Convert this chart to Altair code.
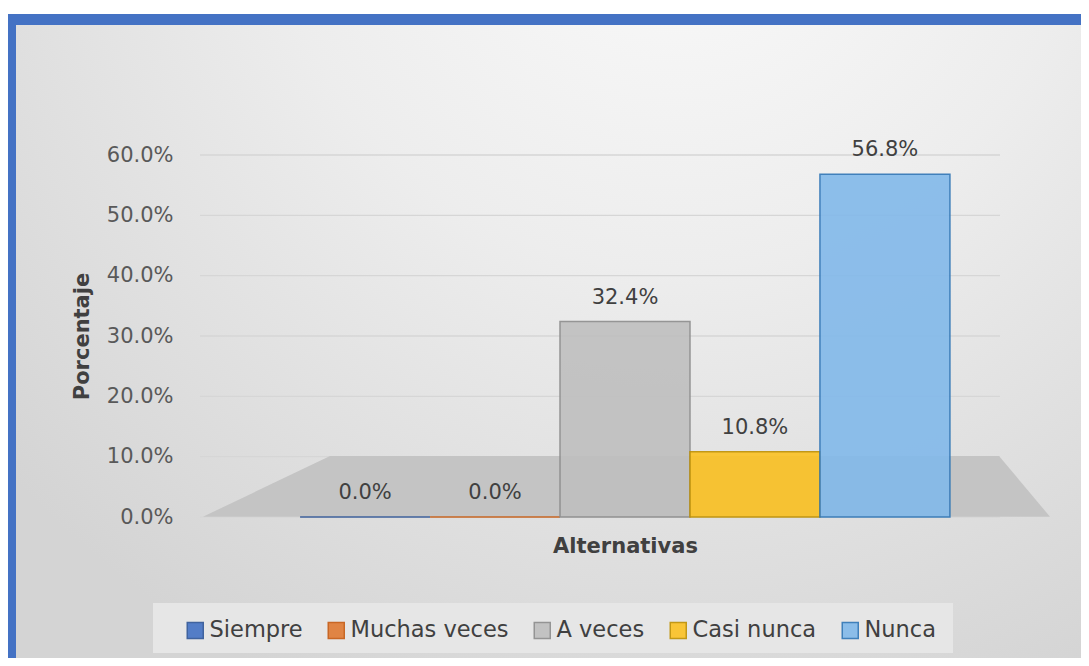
import altair as alt
import pandas as pd

# ---- data ----
categories = ["Siempre", "Muchas veces", "A veces", "Casi nunca", "Nunca"]
values = [0.0, 0.0, 0.324, 0.108, 0.568]
fill_colors = ["#4472c4", "#e07a33", "#bfbfbf", "#fcc224", "#82b9ea"]
stroke_colors = ["#2f5597", "#c55a11", "#8c8c8c", "#bf9000", "#2e75b6"]
y_ticks = [0.0, 0.1, 0.2, 0.3, 0.4, 0.5, 0.6]

df = pd.DataFrame({"Alternativa": categories, "Porcentaje": values})
ticks_df = pd.DataFrame({"tick": y_ticks})

W, H = 850, 362
PAD_L, PAD_T, PAD_R, PAD_B = 192, 147, 31, 141
FONT = "DejaVu Sans"

deco = pd.DataFrame({"k": [0]})

# blue frame (decoration)
frame = alt.Chart(deco).mark_rect(color="#4472c4").encode(
    x=alt.value(-PAD_L - 1), x2=alt.value(W + PAD_R),
    y=alt.value(-PAD_T + 6), y2=alt.value(H + PAD_B),
)
# grey background inside the frame (decoration)
inner = alt.Chart(deco).mark_rect(
    fill=alt.Gradient(
        gradient="radial",
        stops=[alt.GradientStop(color="#fbfbfb", offset=0),
               alt.GradientStop(color="#ededed", offset=0.45),
               alt.GradientStop(color="#d4d4d4", offset=1)],
        x1=0.62, y1=0.05, x2=0.62, y2=0.05, r1=0, r2=0.85,
    )
).encode(
    x=alt.value(-PAD_L + 8), x2=alt.value(W + PAD_R),
    y=alt.value(-PAD_T + 17), y2=alt.value(H + PAD_B),
)

# grid lines (from tick values)
grid = alt.Chart(ticks_df).mark_rule(color="#d6d6d6", strokeWidth=1.3).encode(
    y=alt.Y("tick:Q", scale=alt.Scale(domain=[0, 0.6], nice=False)),
    x=alt.value(0), x2=alt.value(W - 50),
)

# floor (decoration): trapezoid drawn as a custom symbol
floor = alt.Chart(deco).mark_point(
    shape="M -0.993 0.07 L 1 0.07 L 0.88 -0.073 L -0.694 -0.073 Z",
    filled=True, fill="#c4c4c4", opacity=1, strokeWidth=0,
    size=850 * 850,
).encode(x=alt.value(425), y=alt.value(H - 30))

# legend box (decoration)
legend_box = alt.Chart(deco).mark_rect(color="#e6e6e6").encode(
    x=alt.value(-47), x2=alt.value(753),
    y=alt.value(448), y2=alt.value(498),
)

color_scale = alt.Scale(domain=categories, range=fill_colors)
stroke_scale = alt.Scale(domain=categories, range=stroke_colors)

x_enc = alt.X(
    "Alternativa:N", sort=categories,
    scale=alt.Scale(paddingInner=0, paddingOuter=0.77),
    axis=alt.Axis(title="Alternativas", labels=False, ticks=False, domain=False,
                  grid=False, zindex=1,
                  titleFont=FONT, titleFontSize=21, titleFontWeight="bold",
                  titleColor="#404040", titlePadding=18),
)
y_enc = alt.Y(
    "Porcentaje:Q", scale=alt.Scale(domain=[0, 0.6], nice=False),
    axis=alt.Axis(format=".1%", values=y_ticks, title="Porcentaje",
                  grid=False, zindex=1,
                  ticks=False, domain=False, labelPadding=27,
                  labelFont=FONT, labelFontSize=21, labelColor="#595959",
                  titleFont=FONT, titleFontSize=21, titleFontWeight="bold",
                  titleColor="#404040", titlePadding=14),
)

bars = alt.Chart(df).mark_bar(opacity=0.9, strokeWidth=1.5).encode(
    x=x_enc,
    y=y_enc,
    color=alt.Color(
        "Alternativa:N", sort=categories, scale=color_scale,
        legend=alt.Legend(
            title=None, orient="none", direction="horizontal", columns=5,
            legendX=-16, legendY=464, padding=0,
            symbolType="square", symbolSize=256, symbolStrokeWidth=1.5,
            labelFont=FONT, labelFontSize=22.5, labelColor="#404040",
            labelOffset=3, columnPadding=22,
        ),
    ),
    stroke=alt.Stroke("Alternativa:N", sort=categories, scale=stroke_scale, legend=None),
)

labels = alt.Chart(df).mark_text(
    baseline="bottom", dy=-14, font=FONT, fontSize=21, color="#404040"
).encode(
    x=alt.X("Alternativa:N", sort=categories),
    y=alt.Y("Porcentaje:Q"),
    text=alt.Text("Porcentaje:Q", format=".1%"),
)

chart = alt.layer(frame, inner, grid, floor, legend_box, bars, labels).properties(
    width=W, height=H,
    padding={"left": PAD_L, "top": PAD_T, "right": PAD_R, "bottom": PAD_B},
    autosize=alt.AutoSizeParams(type="none"),
    background="white",
).configure_view(stroke=None)

chart.save("out.html", embed_options={"renderer": "svg", "actions": False})
